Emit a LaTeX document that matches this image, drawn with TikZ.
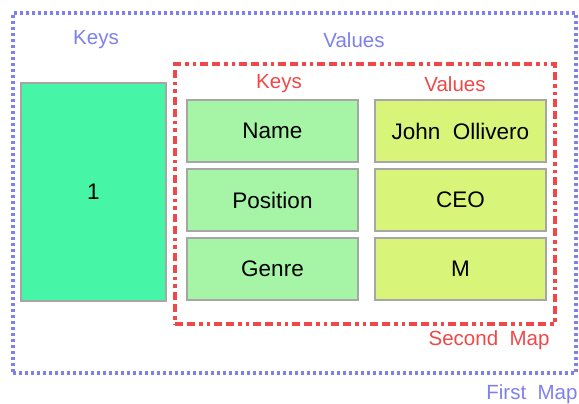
\documentclass[tikz,border=0pt]{standalone}
\usepackage{fontspec}
\setmainfont{Liberation Sans}
\begin{document}
\begin{tikzpicture}[x=1pt,y=-1pt,
  lbl/.style={font=\fontsize{20.5}{24}\selectfont},
  cell/.style={draw=gray!70,line width=1.2pt,minimum width=#1,font=\fontsize{22.5}{26}\selectfont,inner sep=0pt},
]
\definecolor{bluedot}{RGB}{128,128,236}
\definecolor{redmap}{RGB}{240,72,72}
\definecolor{bigg}{RGB}{70,245,165}
\definecolor{keyg}{RGB}{166,245,166}
\definecolor{valg}{RGB}{216,245,122}
\useasboundingbox (0,0) rectangle (579,404);
\node[draw=bluedot,line width=4.5pt,dash pattern=on 3pt off 3pt,minimum width=563pt,minimum height=360pt,inner sep=0pt] (first) at (294.5,193) {};
\node[draw=redmap,line width=4.5pt,dash pattern=on 8pt off 4pt on 8pt off 4pt on 3.5pt off 4pt on 3.5pt off 4pt,minimum width=380pt,minimum height=260pt,inner sep=0pt] (second) at (365,194) {};
\node[cell=145pt,fill=bigg,minimum height=218pt] (one) at (93.5,192) {1};
\node[cell=171pt,fill=keyg,minimum height=62pt] (k1) at (272.5,131) {Name};
\node[cell=171pt,fill=keyg,minimum height=62pt] (k2) at (272.5,200) {Position};
\node[cell=171pt,fill=keyg,minimum height=62pt] (k3) at (272.5,269) {Genre};
\node[cell=171pt,fill=valg,minimum height=62pt] (v1) at (460.5,131) {John\ \ Ollivero};
\node[cell=171pt,fill=valg,minimum height=62pt] (v2) at (460.5,200) {CEO};
\node[cell=171pt,fill=valg,minimum height=62pt] (v3) at (460.5,269) {M};
\node[lbl,text=bluedot] (bk) at (96,40) {Keys};
\node[lbl,text=bluedot] (bv) at (354,40) {Values};
\node[lbl,text=redmap] (rk) at (279,84) {Keys};
\node[lbl,text=redmap] (rv) at (455,84) {Values};
\node[lbl,text=redmap,anchor=east] (sm) at (553,340) {Second\ \ Map};
\node[lbl,text=bluedot,anchor=east] (fm) at (581,394) {First\ \ Map};
\end{tikzpicture}
\end{document}
